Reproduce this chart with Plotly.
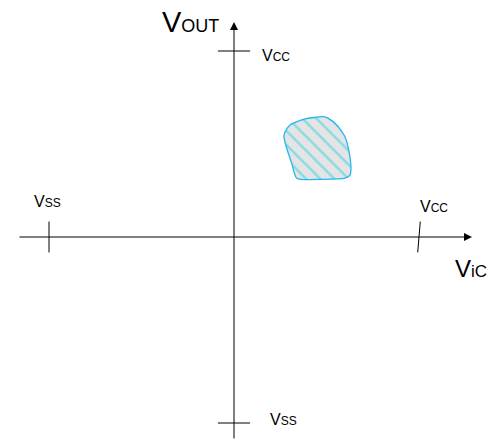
import plotly.graph_objects as go

# Normalised voltages (origin = 0, supply rails = +/-1)
v_cc = 1.0
v_ss = -1.0

# Outline of the hatched operating region (V_IC, V_OUT)
region_vic = [0.276, 0.303, 0.375, 0.483, 0.510, 0.555, 0.600, 0.623, 0.632,
              0.627, 0.600, 0.483, 0.339, 0.312, 0.285, 0.270, 0.276]
region_vout = [0.566, 0.602, 0.633, 0.647, 0.638, 0.602, 0.539, 0.452, 0.369,
               0.333, 0.316, 0.310, 0.316, 0.396, 0.477, 0.539, 0.566]

FONT = "Liberation Sans, Arial, sans-serif"
X_RANGE = [-1.2216, 1.4811]
Y_RANGE = [-1.1559, 1.2312]

fig = go.Figure()

# hatched region
fig.add_trace(go.Scatter(
    x=region_vic, y=region_vout, mode="lines", fill="toself",
    line=dict(color="#1fb8ee", width=1.3, shape="spline", smoothing=0.6),
    fillcolor="#e6e6e6",
    fillpattern=dict(shape="\\", fgcolor="#2ad2e2", bgcolor="#e4e4e4",
                     size=10, solidity=0.24),
    hoverinfo="skip", showlegend=False,
))

# axes lines (arrows)
fig.add_annotation(x=1.2865, y=0, ax=-1.1676, ay=0, xref="x", yref="y",
                   axref="x", ayref="y", showarrow=True, arrowhead=2,
                   arrowsize=1.6, arrowwidth=1, arrowcolor="black", text="")
fig.add_annotation(x=0, y=1.156, ax=0, ay=-1.0914, xref="x", yref="y",
                   axref="x", ayref="y", showarrow=True, arrowhead=2,
                   arrowsize=1.6, arrowwidth=1, arrowcolor="black", text="")

# tick marks
th_y = 0.083
th_x = 0.087
slant = 0.007
shapes = [
    dict(type="line", x0=v_ss, x1=v_ss, y0=-th_y, y1=th_y),
    dict(type="line", x0=v_cc - slant, x1=v_cc + slant, y0=-th_y, y1=th_y),
    dict(type="line", x0=-th_x, x1=th_x, y0=v_cc, y1=v_cc),
    dict(type="line", x0=-th_x, x1=th_x, y0=v_ss, y1=v_ss),
]
for s in shapes:
    s.update(xref="x", yref="y", line=dict(color="black", width=1))
fig.update_layout(shapes=shapes)


def lab(x, y, big, small, bs, ss, xanchor="left"):
    fig.add_annotation(
        x=x, y=y, xref="x", yref="y", showarrow=False, xanchor=xanchor,
        yanchor="bottom",
        text=f"{big}<span style='font-size:{ss}px'>{small}</span>",
        font=dict(family=FONT, size=bs, color="black"))


lab(-0.40, 1.058, "V", "OUT", 29, 18)
lab(0.14, 0.92, "V", "CC", 16, 12)
lab(-1.09, 0.135, "V", "SS", 16, 12)
lab(0.995, 0.11, "V", "CC", 16, 12)
lab(1.185, -0.25, "V", "iC", 24, 17)
lab(0.185, -1.035, "V", "SS", 16, 12)

fig.update_layout(
    width=500, height=444, margin=dict(l=0, r=0, t=0, b=0),
    paper_bgcolor="white", plot_bgcolor="white",
    xaxis=dict(range=X_RANGE, visible=False, fixedrange=True),
    yaxis=dict(range=Y_RANGE, visible=False, fixedrange=True),
)

fig.write_html("out.html")
